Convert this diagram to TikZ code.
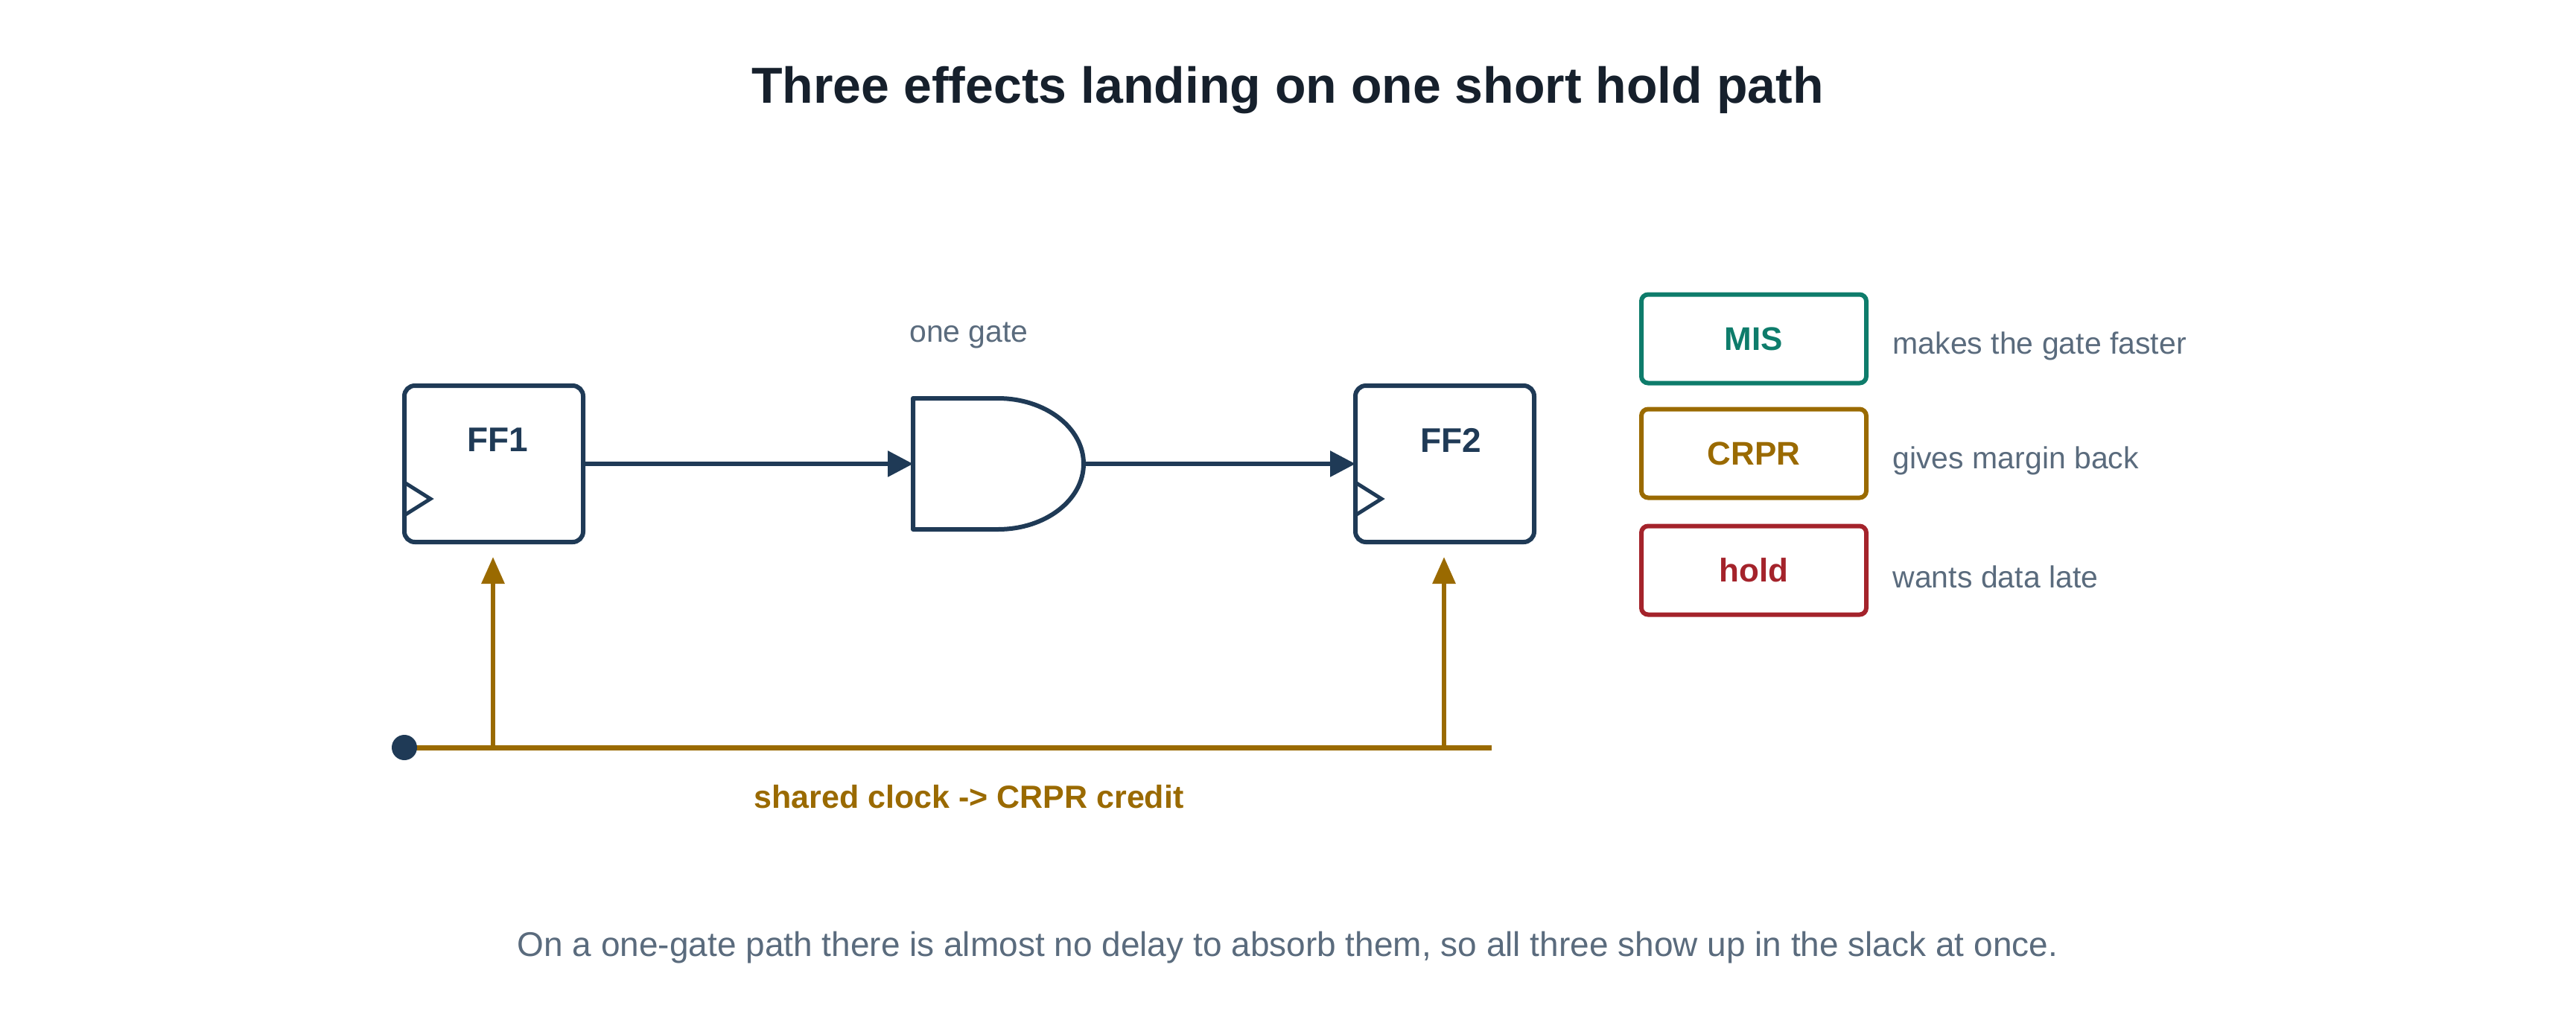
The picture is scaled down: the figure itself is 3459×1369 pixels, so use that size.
\documentclass[tikz,border=0pt]{standalone}
\usepackage{fontspec}
\setmainfont{Liberation Sans}
\usetikzlibrary{arrows.meta}
\definecolor{navy}{HTML}{1F3A56}
\definecolor{gold}{HTML}{9A6A00}
\definecolor{teal}{HTML}{0E7C6B}
\definecolor{red}{HTML}{A4232B}
\definecolor{grey}{HTML}{5A6B7D}
\definecolor{ink}{HTML}{16202C}
\begin{document}
\begin{tikzpicture}[x=1pt,y=-1pt,
  ff/.style={draw=navy,line width=6pt,rounded corners=14pt},
  sig/.style={navy,line width=6pt,-{Triangle[length=34pt,width=34pt]}},
  clk/.style={gold,line width=6pt,-{Triangle[length=36pt,width=30pt]}},
  leg/.style={line width=6pt,rounded corners=9pt,minimum width=302pt,minimum height=119pt,font=\fontsize{44}{52}\selectfont\bfseries},
  lt/.style={anchor=west,text=grey,font=\fontsize{41}{49}\selectfont}]
\useasboundingbox (0,0) rectangle (3459,1369);
\node[text=ink,font=\fontsize{68}{80}\selectfont\bfseries] (title) at (1729,121) {Three effects landing on one short hold path};
% flip-flops
\draw[ff] (543,518) rectangle (783,728);
\draw[navy,line width=5pt] (543,648) -- (578,670) -- (543,692);
\node[text=navy,font=\fontsize{46}{54}\selectfont\bfseries] (l1) at (668,591) {FF1};
\draw[ff] (1820,518) rectangle (2060,728);
\draw[navy,line width=5pt] (1820,648) -- (1855,670) -- (1820,692);
\node[text=navy,font=\fontsize{46}{54}\selectfont\bfseries] (l2) at (1948,591) {FF2};
% gate
\draw[navy,line width=6pt,line join=round] (1226,535) -- (1340,535) arc[start angle=-90,end angle=90,x radius=115,y radius=88] -- (1226,711) -- cycle;
\coordinate (gin) at (1226,623);
\coordinate (gout) at (1455,623);
\coordinate (f1out) at (783,623);
\coordinate (f2in) at (1820,623);
\draw[sig] (f1out) -- (gin);
\draw[sig] (gout) -- (f2in);
\node[text=grey,font=\fontsize{41}{49}\selectfont] (og) at (1301,450) {one gate};
% clock
\coordinate (c0) at (543,1004);
\coordinate (c1) at (2003,1004);
\coordinate (b1) at (662,1004);
\coordinate (b2) at (1939,1004);
\coordinate (t1) at (662,748);
\coordinate (t2) at (1939,748);
\draw[gold,line width=7pt] (c0) -- (c1);
\draw[clk] (b1) -- (t1);
\draw[clk] (b2) -- (t2);
\fill[navy] (c0) circle (17pt);
\node[text=gold,font=\fontsize{43}{51}\selectfont\bfseries] (cl) at (1301,1070) {shared clock -> CRPR credit};
% legend
\node[leg,draw=teal,text=teal] (mis) at (2355,455) {MIS};
\node[leg,draw=gold,text=gold] (crpr) at (2355,609) {CRPR};
\node[leg,draw=red,text=red] (hold) at (2355,766) {hold};
\node[lt] (t1x) at (2538,465) {makes the gate faster};
\node[lt] (t2x) at (2538,619) {gives margin back};
\node[lt] (t3x) at (2538,775) {wants data late};
\node[text=grey,font=\fontsize{46}{55}\selectfont] (foot) at (1729,1273) {On a one-gate path there is almost no delay to absorb them, so all three show up in the slack at once.};
\end{tikzpicture}
\end{document}
